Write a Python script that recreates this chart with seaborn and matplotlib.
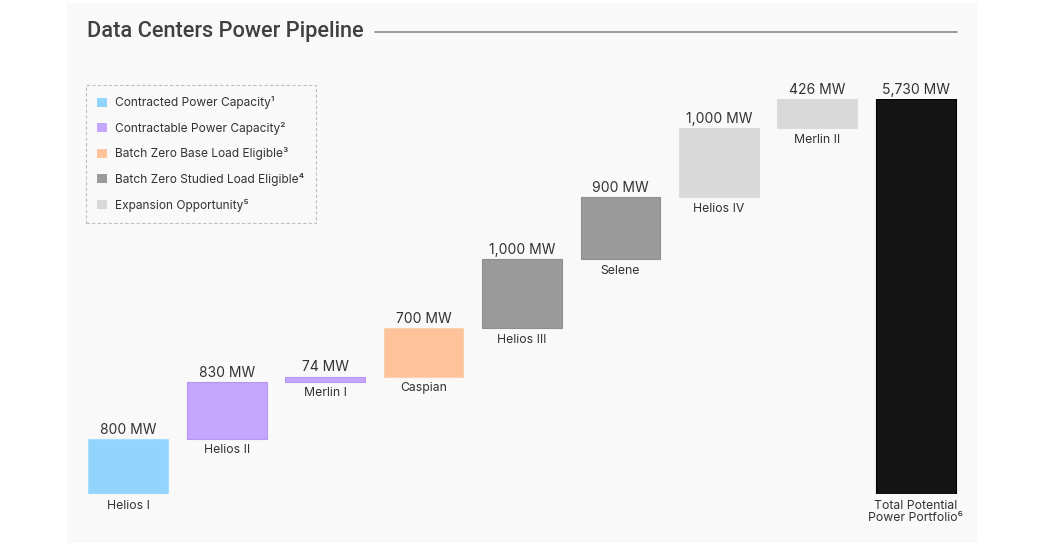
import numpy as np
import pandas as pd
import matplotlib
matplotlib.use("Agg")
import matplotlib.pyplot as plt
from matplotlib.patches import Patch, Rectangle
from matplotlib.lines import Line2D
import seaborn as sns

# ---- data ----
categories = ["Helios I", "Helios II", "Merlin I", "Caspian", "Helios III",
              "Selene", "Helios IV", "Merlin II", "Total Potential\nPower Portfolio⁶"]
values = [800, 830, 74, 700, 1000, 900, 1000, 426, 5730]
value_labels = ["800 MW", "830 MW", "74 MW", "700 MW", "1,000 MW",
                "900 MW", "1,000 MW", "426 MW", "5,730 MW"]
groups = ["Contracted", "Contractable", "Contractable", "Base", "Studied",
          "Studied", "Expansion", "Expansion", "Total"]
legend_labels = ["Contracted Power Capacity¹", "Contractable Power Capacity²",
                 "Batch Zero Base Load Eligible³", "Batch Zero Studied Load Eligible⁴",
                 "Expansion Opportunity⁵"]
legend_groups = ["Contracted", "Contractable", "Base", "Studied", "Expansion"]
group_colors = {"Contracted": "#93d4fd", "Contractable": "#c4a6fc",
                "Base": "#fec39a", "Studied": "#9a9a9a",
                "Expansion": "#d9d9d9", "Total": "#141414"}
group_edges = {"Contracted": "#a9ddfd", "Contractable": "#b896f5",
               "Base": "#fdd0b0", "Studied": "#8f8f8f",
               "Expansion": "#dcdcdc", "Total": "#000000"}

# waterfall bases (total starts at zero)
bases = list(np.concatenate([[0], np.cumsum(values[:-2])])) + [0]

df = pd.DataFrame({"category": categories, "value": values})

sns.set_theme(style="white")
plt.rcParams["font.family"] = ["Inter", "DejaVu Sans"]

W, H = 1047, 548
fig = plt.figure(figsize=(W / 100, H / 100), dpi=100)
fig.patch.set_facecolor("white")
# light panel
fig.add_artist(Rectangle((67 / W, 5 / H), (977 - 67) / W, (545 - 5) / H,
                         transform=fig.transFigure, facecolor="#f9f9f9",
                         edgecolor="none", zorder=-10))

ax = fig.add_axes([79 / W, 54 / H, (965 - 79) / W, (449 - 54) / H])
ax.set_facecolor("none")

sns.barplot(data=df, x="category", y="value", bottom=bases, width=0.81,
            errorbar=None, ax=ax, linewidth=0.8, color="#999999", saturation=1)

for patch, g in zip(ax.patches, groups):
    patch.set_facecolor(group_colors[g])
    patch.set_edgecolor(group_edges[g])

ax.set_xlim(-0.5, len(categories) - 0.5)
ax.set_ylim(0, 5730)
ax.axis("off")

text_color = "#333333"
for i, (b, v, lab, cat) in enumerate(zip(bases, values, value_labels, categories)):
    top = b + v
    ax.annotate(lab, (i, top), xytext=(0, 1.5), textcoords="offset points",
                ha="center", va="bottom", fontsize=10, color=text_color)
    ax.annotate(cat, (i, b), xytext=(0, -4), textcoords="offset points",
                ha="center", va="top", fontsize=8.8, color=text_color,
                linespacing=1.1)

# title and rule
title = fig.text(87 / W, 1 - 32 / H, "Data Centers Power Pipeline", fontsize=17,
                 fontweight="medium", family=["Roboto", "DejaVu Sans"],
                 color="#404040", ha="left", va="center")
renderer = fig.canvas.get_renderer()
w_now = title.get_window_extent(renderer).width
title.set_fontsize(17 * 278 / w_now)
fig.add_artist(Line2D([375 / W, 957 / W], [1 - 32 / H, 1 - 32 / H],
                      transform=fig.transFigure, color="#8a8a8a", lw=1.2))

# legend
handles = [Patch(facecolor=group_colors[g], edgecolor="none") for g in legend_groups]
leg = fig.legend(handles, legend_labels, loc="upper left",
                 bbox_to_anchor=(86 / W, 1 - 85 / H), frameon=True,
                 fontsize=8.6, handlelength=0.8, handleheight=0.8,
                 handletextpad=0.7, labelspacing=1.05, borderpad=0.95,
                 borderaxespad=0, fancybox=False, labelcolor=text_color)
frame = leg.get_frame()
frame.set_facecolor("#f9f9f9")
frame.set_edgecolor("#b0b0b0")
frame.set_linestyle((0, (3, 2)))
frame.set_linewidth(0.8)

fig.savefig("out.png", dpi=100, facecolor=fig.get_facecolor())
